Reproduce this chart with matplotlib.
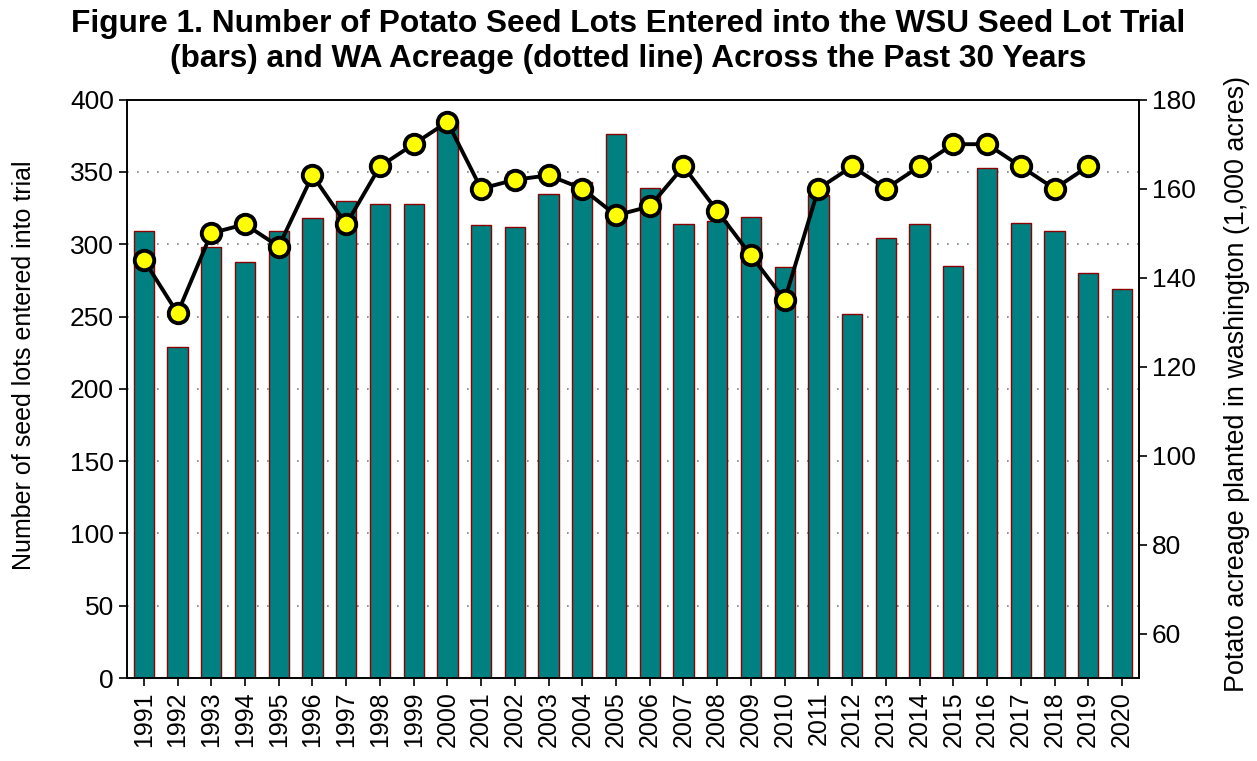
import matplotlib
matplotlib.use('Agg')
from matplotlib import pyplot as plt
import numpy as np

plt.rcParams['font.family'] = ['Liberation Sans', 'DejaVu Sans']

years = list(range(1991, 2021))
seed_lots = [309, 229, 298, 288, 309, 318, 330, 328, 328, 385,
             313, 312, 335, 343, 376, 339, 314, 316, 319, 284,
             334, 252, 304, 314, 285, 353, 315, 309, 280, 269]
# WA acreage (1,000 acres); no value for 2020
acreage = [144, 132, 150, 152, 147, 163, 152, 165, 170, 175,
           160, 162, 163, 160, 154, 156, 165, 155, 145, 135,
           160, 165, 160, 165, 170, 170, 165, 160, 165, np.nan]

title = ('Figure 1. Number of Potato Seed Lots Entered into the WSU Seed Lot Trial\n'
         '(bars) and WA Acreage (dotted line) Across the Past 30 Years')

fig = plt.figure(figsize=(12.57, 7.61), dpi=100)
ax = fig.add_axes([0.101, 0.109, 0.805, 0.760])
x = np.arange(len(years))

ax.set_axisbelow(True)
ax.yaxis.grid(True, linestyle=(0, (1, 5)), color='gray', linewidth=1.2)
ax.bar(x, seed_lots, width=0.6, color='#008080', edgecolor='#8b0000', linewidth=1.0, zorder=2)
ax.set_ylim(0, 400)
ax.set_yticks(np.arange(0, 401, 50))
ax.set_xlim(-0.5, len(years) - 0.5)
ax.set_xticks(x)
ax.set_xticklabels([str(y) for y in years], rotation=90, fontsize=18)
ax.tick_params(axis='y', labelsize=19, length=6, width=1.2)
ax.tick_params(axis='x', length=6, width=1.2)
ax.set_ylabel('Number of seed lots entered into trial', fontsize=18)
ax.yaxis.set_label_coords(-0.09, 0.54)
for s in ax.spines.values():
    s.set_linewidth(1.2)

ax2 = ax.twinx()
ax2.plot(x, acreage, color='black', linewidth=2.8, marker='o', markersize=14,
         markerfacecolor='#ffff00', markeredgecolor='black', markeredgewidth=2.8, zorder=3)
ax2.set_ylim(50, 180)
ax2.set_yticks(np.arange(60, 181, 20))
ax2.tick_params(axis='y', labelsize=19, length=6, width=1.2)
ax2.set_ylabel('Potato acreage planted in washington (1,000 acres)', fontsize=19.4)
ax2.yaxis.set_label_coords(1.084, 0.508)
for s in ax2.spines.values():
    s.set_linewidth(1.2)

fig.suptitle(title, fontsize=22.8, fontweight='bold', y=0.988)

plt.savefig('out.png', dpi=100)
